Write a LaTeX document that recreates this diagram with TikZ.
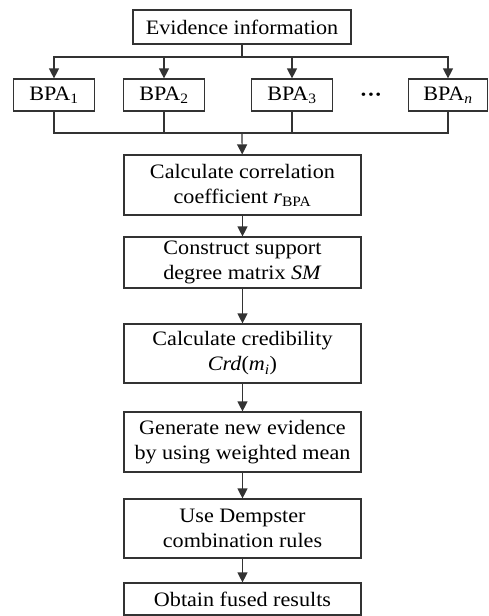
\documentclass[tikz,border=0pt]{standalone}
\usepackage{fontspec}
\setmainfont[FakeStretch=1.08]{Liberation Serif}
\usetikzlibrary{arrows.meta}
\definecolor{lineclr}{HTML}{333333}

\begin{document}
\begin{tikzpicture}[x=1pt,y=-1pt,
    box/.style={draw=lineclr,line width=1.2pt,fill=white,align=center,inner sep=0pt,
      font=\fontsize{20.5}{25}\selectfont},
    bpabox/.style={box,minimum width=81,minimum height=32},
    stepbox/.style={box,minimum width=237},
    link/.style={draw=lineclr,line width=1.2pt},
    flow/.style={link,-{Triangle[length=10pt,width=10pt]}}]
  \useasboundingbox[fill=white] (0,0) rectangle (488,616);
  % evidence and the BPAs
  \node[box,minimum width=218,minimum height=34] (ev) at (242,27) {Evidence information};
  \node[bpabox] (bpa1) at (54,95)  {BPA\textsubscript{1}};
  \node[bpabox] (bpa2) at (164,95) {BPA\textsubscript{2}};
  \node[bpabox] (bpa3) at (292,95) {BPA\textsubscript{3}};
  \node[font=\fontsize{20.5}{25}\bfseries,inner sep=0pt] (dots) at (371,97) {···};
  \node[bpabox,minimum width=79] (bpan) at (448,95) {BPA\textsubscript{\itshape n}};
  \coordinate (split) at (242,57);
  \coordinate (merge) at (242,133);
  % the fusion steps
  \node[stepbox,minimum height=60] (calc) at (242.5,185) {Calculate correlation\\coefficient \textit{r}\textsubscript{BPA}};
  \node[stepbox,minimum height=51] (cons) at (242.5,262.5) {Construct support\\degree matrix \textit{SM}};
  \node[stepbox,minimum height=59] (cred) at (242.5,353.5) {Calculate credibility\\\textit{Crd}(\textit{m}\textsubscript{\itshape i})};
  \node[stepbox,minimum height=60] (gen) at (242.5,442) {Generate new evidence\\by using weighted mean};
  \node[stepbox,minimum height=59] (dem) at (242.5,528.5) {Use Dempster\\combination rules};
  \node[stepbox,minimum height=32] (res) at (242.5,599) {Obtain fused results};
  % connectors
  \draw[link] (ev) -- (split);
  \foreach \b in {bpa1,bpa2,bpa3,bpan} {
    \draw[flow] (split) -| (\b);
    \draw[link] (\b) |- (merge);
  }
  \draw[flow] (merge) -- (calc);
  \draw[flow] (calc) -- (cons);
  \draw[flow] (cons) -- (cred);
  \draw[flow] (cred) -- (gen);
  \draw[flow] (gen) -- (dem);
  \draw[flow] (dem) -- (res);
\end{tikzpicture}
\end{document}
